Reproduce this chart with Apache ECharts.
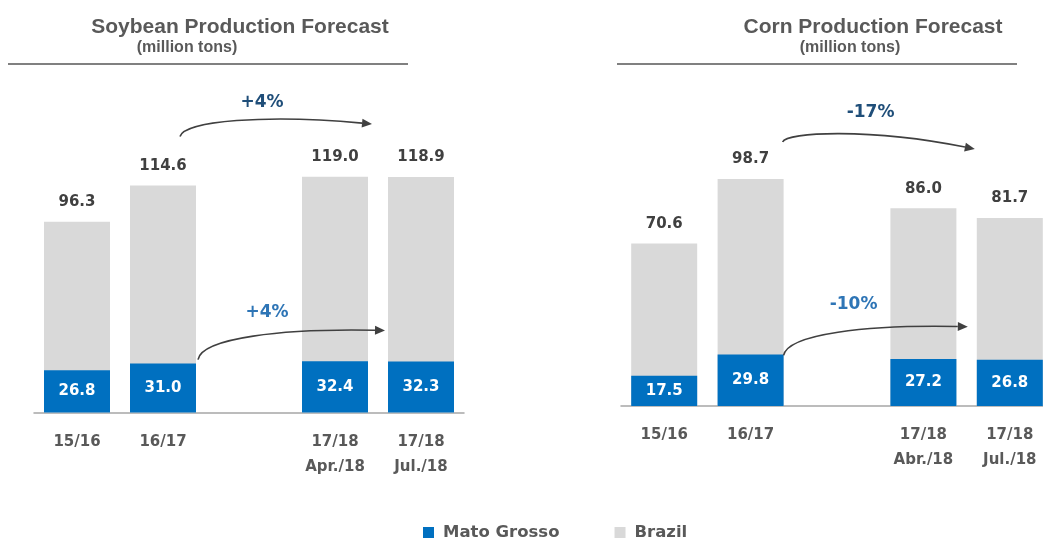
<!DOCTYPE html>
<html>
<head>
<meta charset="utf-8">
<script src="https://cdn.jsdelivr.net/npm/echarts@6/dist/echarts.min.js"></script>
<style>
  html, body { margin: 0; padding: 0; background: #fff; }
  #main { width: 1043px; height: 541px; }
</style>
</head>
<body>
<div id="main"></div>
<script>
// data
var soyCategories = ['15/16', '16/17', '', '17/18\nApr./18', '17/18\nJul./18'];
var cornCategories = ['15/16', '16/17', '', '17/18\nAbr./18', '17/18\nJul./18'];
var soyBrazil = [96.3, 114.6, null, 119.0, 118.9];
var soyMatoGrosso = [26.8, 31.0, null, 32.4, 32.3];
var cornBrazil = [70.6, 98.7, null, 86.0, 81.7];
var cornMatoGrosso = [17.5, 29.8, null, 27.2, 26.8];
var changeLabels = { soyBrazil: '+4%', soyMT: '+4%', cornBrazil: '-17%', cornMT: '-10%' };

var FONT = 'DejaVu Sans';
var BLUE = '#0070c0';
var GREY = '#d9d9d9';

var chart = echarts.init(document.getElementById('main'));

function fmt(p) {
    return p.value == null ? '' : Number(p.value).toFixed(1);
}

function barSeries(name, data, xi, yi, color, inside) {
    return {
        name: name,
        type: 'bar',
        xAxisIndex: xi,
        yAxisIndex: yi,
        data: data,
        barWidth: 66,
        barGap: '-100%',
        itemStyle: { color: color },
        animation: false,
        label: inside ? {
            show: true, position: 'inside', formatter: fmt,
            color: '#fff', fontFamily: FONT, fontWeight: 'bold', fontSize: 15
        } : {
            show: true, position: 'top', distance: 12, formatter: fmt,
            color: '#404040', fontFamily: FONT, fontWeight: 'bold', fontSize: 15
        }
    };
}

function xAxisFor(grid, cats) {
    return {
        type: 'category', gridIndex: grid, data: cats,
        axisTick: { show: false },
        axisLine: { lineStyle: { color: '#a6a6a6', width: 1.5 } },
        axisLabel: {
            interval: 0, margin: 17, lineHeight: 25,
            color: '#595959', fontFamily: FONT, fontWeight: 'bold', fontSize: 15
        }
    };
}

// the picture draws the two series on different scales, so each gets its own hidden axis
function yAxisFor(grid, max) {
    return { type: 'value', gridIndex: grid, min: 0, max: max, show: false, splitLine: { show: false } };
}

chart.setOption({
    animation: false,
    grid: [
        { left: 34, top: 112.5, width: 430, height: 300, outerBoundsMode: 'none' },
        // the corn panel runs past the right edge of the picture, as in the original
        { left: 621, top: 106, width: 432, height: 300, outerBoundsMode: 'none' }
    ],
    legend: {
        data: ['Mato Grosso', 'Brazil'],
        left: 418, top: 519,
        icon: 'rect', itemWidth: 11, itemHeight: 11, itemGap: 55,
        textStyle: { color: '#595959', fontFamily: FONT, fontWeight: 'bold', fontSize: 16.5, padding: [0, 0, 0, 4] }
    },
    xAxis: [xAxisFor(0, soyCategories), xAxisFor(1, cornCategories)],
    yAxis: [yAxisFor(0, 151.5), yAxisFor(0, 190), yAxisFor(1, 130.4), yAxisFor(1, 173.4)],
    series: [
        barSeries('Brazil', soyBrazil, 0, 0, GREY, false),
        barSeries('Mato Grosso', soyMatoGrosso, 0, 1, BLUE, true),
        barSeries('Brazil', cornBrazil, 1, 2, GREY, false),
        barSeries('Mato Grosso', cornMatoGrosso, 1, 3, BLUE, true)
    ]
});

// annotations: headings, rules and the change arrows (placed from the bar tops)
function px(xi, yi, cat, val) {
    return chart.convertToPixel({ xAxisIndex: xi, yAxisIndex: yi }, [cat, val]);
}

function arrow(s, e, lift, labelPos, text, color) {
    var top = Math.min(s[1], e[1]) - lift;
    var cp1 = [s[0] + 4, s[1] - 0.7 * (s[1] - top)];
    var cp2 = [s[0] + 0.45 * (e[0] - s[0]), top];
    var dx = e[0] - cp2[0], dy = e[1] - cp2[1];
    var len = Math.sqrt(dx * dx + dy * dy);
    dx /= len; dy /= len;
    var bx = e[0] - dx * 10, by = e[1] - dy * 10;
    return [
        {
            type: 'bezierCurve', z: 100,
            shape: { x1: s[0], y1: s[1], cpx1: cp1[0], cpy1: cp1[1], cpx2: cp2[0], cpy2: cp2[1], x2: bx, y2: by },
            style: { stroke: '#404040', lineWidth: 1.6, fill: null }
        },
        {
            type: 'polygon', z: 100,
            shape: { points: [[e[0], e[1]], [bx - dy * 4.5, by + dx * 4.5], [bx + dy * 4.5, by - dx * 4.5]] },
            style: { fill: '#404040' }
        },
        {
            type: 'text', z: 100, x: labelPos[0], y: labelPos[1],
            style: {
                text: text, fill: color, align: 'center', verticalAlign: 'middle',
                font: 'bold 17px "' + FONT + '"'
            }
        }
    ];
}

function heading(cx, subx, title, sub, x1, x2) {
    return [
        { type: 'text', x: cx, y: 27, style: { text: title, fill: '#595959', align: 'center', verticalAlign: 'middle', font: 'bold 21px "Liberation Sans"' } },
        { type: 'text', x: subx, y: 48, style: { text: sub, fill: '#595959', align: 'center', verticalAlign: 'middle', font: 'bold 16px "Liberation Sans"' } },
        { type: 'line', shape: { x1: x1, y1: 64, x2: x2, y2: 64 }, style: { stroke: '#808080', lineWidth: 2 } }
    ];
}

var g = [];
g = g.concat(heading(240, 187, 'Soybean Production Forecast', '(million tons)', 8, 408));
g = g.concat(heading(873, 850, 'Corn Production Forecast', '(million tons)', 617, 1017));

function off(p, dx, dy) { return [p[0] + dx, p[1] + dy]; }

var s1 = off(px(0, 0, 1, soyBrazil[1]), 17, -49);
var e1 = off(px(0, 0, 4, soyBrazil[4]), -49, -53);
g = g.concat(arrow(s1, e1, 10, off(s1, 82, -34), changeLabels.soyBrazil, '#1f4e79'));

var s2 = off(px(0, 1, 1, soyMatoGrosso[1]), 35, -4);
var e2 = off(px(0, 1, 4, soyMatoGrosso[4]), -36, -31);
g = g.concat(arrow(s2, e2, 2, off(s2, 69, -47), changeLabels.soyMT, '#2e75b6'));

var s3 = off(px(1, 2, 1, cornBrazil[1]), 32, -37);
var e3 = off(px(1, 2, 4, cornBrazil[4]), -35, -69);
g = g.concat(arrow(s3, e3, 14, off(s3, 88, -29), changeLabels.cornBrazil, '#1f4e79'));

var s4 = off(px(1, 3, 1, cornMatoGrosso[1]), 33, 1);
var e4 = off(px(1, 3, 4, cornMatoGrosso[4]), -42, -33);
g = g.concat(arrow(s4, e4, 2, off(s4, 70, -51), changeLabels.cornMT, '#2e75b6'));

chart.setOption({ graphic: g });
</script>
</body>
</html>
